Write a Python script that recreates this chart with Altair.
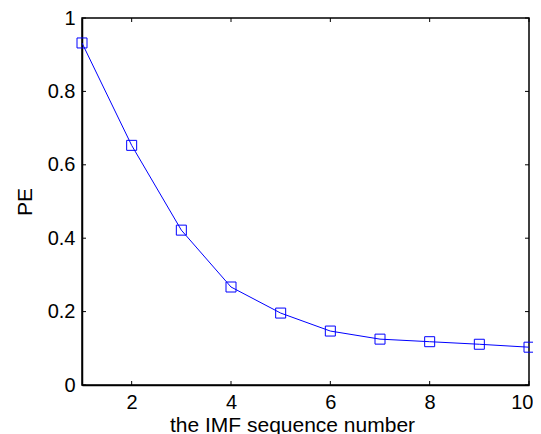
import altair as alt
import pandas as pd

imf = [1, 2, 3, 4, 5, 6, 7, 8, 9, 10]
pe = [0.932, 0.653, 0.422, 0.267, 0.196, 0.147, 0.125, 0.118, 0.111, 0.103]
x_ticks = [2, 4, 6, 8, 10]
y_ticks = [0, 0.2, 0.4, 0.6, 0.8, 1.0]

W, H = 447, 367
FONT = "Liberation Sans"
BLUE = "#0000ff"

df = pd.DataFrame({"imf": imf, "pe": pe})
xt = pd.DataFrame({"xt": x_ticks})
yt = pd.DataFrame({"yt": y_ticks})

xscale = alt.Scale(domain=[1, 10], nice=False, zero=False)
yscale = alt.Scale(domain=[0, 1], nice=False)
xaxis = alt.Axis(values=x_ticks, ticks=False, grid=False, labelPadding=7,
                 labelFlush=True, labelFlushOffset=4, labelOverlap=False,
                 title="the IMF sequence number", titleX=210, titleY=46,
                 titleBaseline="alphabetic", titleAlign="center")
yaxis = alt.Axis(values=y_ticks, ticks=False, grid=False, labelPadding=7,
                 labelFlush=False, labelOverlap=False,
                 format="~g", title="PE", titlePadding=12)

base = alt.Chart(df)
line = base.mark_line(color=BLUE, strokeWidth=1).encode(
    x=alt.X("imf:Q", scale=xscale, axis=xaxis),
    y=alt.Y("pe:Q", scale=yscale, axis=yaxis),
)
pts = base.mark_point(shape="square", size=100, filled=False, color=BLUE,
                      strokeWidth=1, opacity=1).encode(
    x=alt.X("imf:Q", scale=xscale, axis=xaxis),
    y=alt.Y("pe:Q", scale=yscale, axis=yaxis),
)

tb = alt.Chart(xt).mark_rule(color="black", strokeWidth=1).encode(
    x=alt.X("xt:Q", scale=xscale, axis=xaxis), y=alt.value(H), y2=alt.value(H - 4))
tt = alt.Chart(xt).mark_rule(color="black", strokeWidth=1).encode(
    x=alt.X("xt:Q", scale=xscale, axis=xaxis), y=alt.value(0), y2=alt.value(4))
tl = alt.Chart(yt).mark_rule(color="black", strokeWidth=1).encode(
    y=alt.Y("yt:Q", scale=yscale, axis=yaxis), x=alt.value(0), x2=alt.value(4))
tr = alt.Chart(yt).mark_rule(color="black", strokeWidth=1).encode(
    y=alt.Y("yt:Q", scale=yscale, axis=yaxis), x=alt.value(W), x2=alt.value(W - 4))

chart = alt.layer(line, pts, tb, tt, tl, tr).properties(
    width=W, height=H,
    background="white",
    autosize=alt.AutoSizeParams(type="none"),
    padding={"left": 74, "top": 10, "right": 4, "bottom": 49},
).configure_view(stroke="black", strokeWidth=1.5).configure_axis(
    domainColor="black", domainWidth=1.5,
    labelFont=FONT, labelFontSize=20, labelColor="black",
    titleFont=FONT, titleFontSize=21, titleColor="black", titleFontWeight="normal",
)

chart.save("out.html", embed_options={"renderer": "svg", "actions": False})
